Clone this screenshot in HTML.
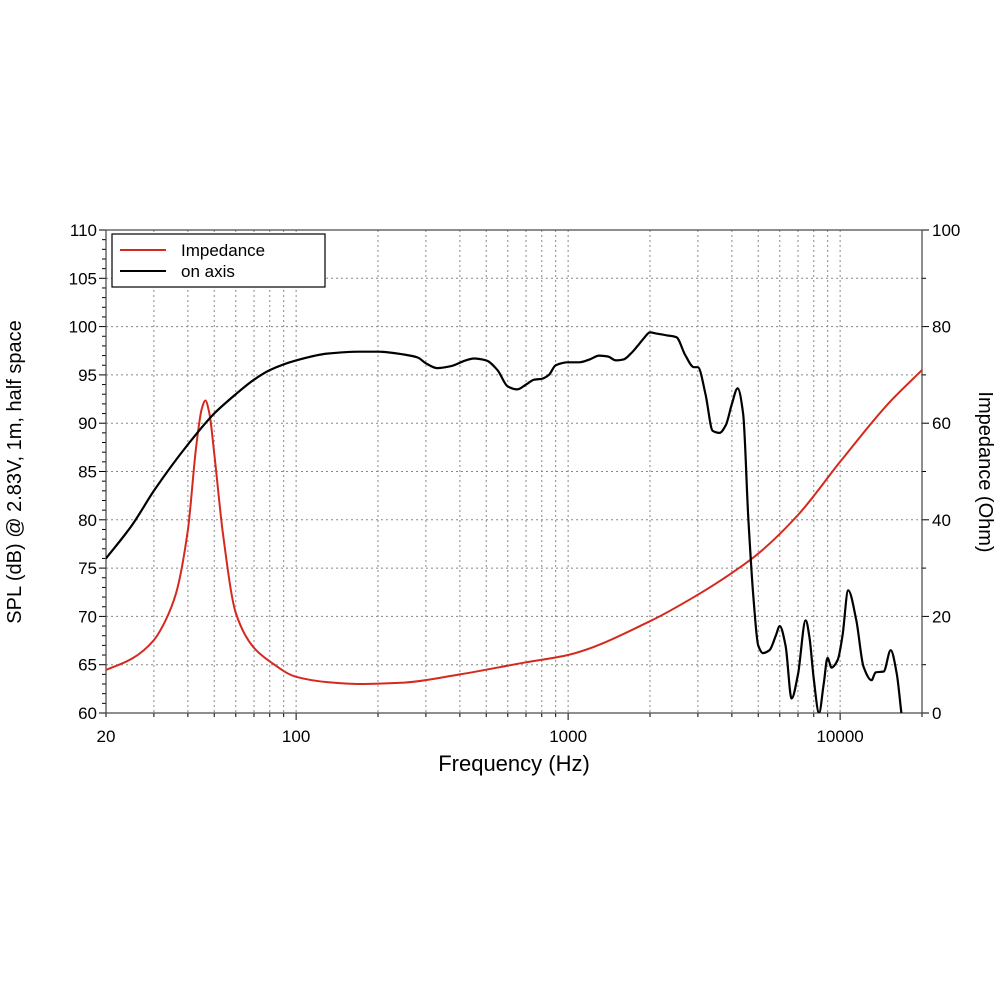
<!DOCTYPE html>
<html><head><meta charset="utf-8"><style>
body{margin:0;background:#fff;}
svg{font-family:"Liberation Sans",Arial,sans-serif;}
</style></head><body>
<svg id="chart" width="1000" height="1000" viewBox="0 0 1000 1000">
<g id="grid"></g>
<g id="axes"></g>
<path id="imp" fill="none" stroke="#d42a1e" stroke-width="2"/>
<path id="spl" fill="none" stroke="#000" stroke-width="2.2"/>
<text x="514" y="771" font-size="22" text-anchor="middle">Frequency (Hz)</text>
<text transform="translate(21,472) rotate(-90)" font-size="20" text-anchor="middle">SPL (dB) @ 2.83V, 1m, half space</text>
<text transform="translate(979,472) rotate(90)" font-size="20" text-anchor="middle">Impedance (Ohm)</text>
<g>
<rect x="112" y="234" width="213" height="53" fill="#fff" stroke="#000" stroke-width="1.2"/>
<line x1="120" y1="250" x2="166" y2="250" stroke="#d42a1e" stroke-width="2"/>
<text x="181" y="256" font-size="17">Impedance</text>
<line x1="120" y1="271" x2="166" y2="271" stroke="#000" stroke-width="2"/>
<text x="181" y="277" font-size="17">on axis</text>
</g>
</svg>
<script>
const splFreq=[20,25,30,40,50,60,70,80,100,130,170,200,250,280,300,330,370,420,450,500,550,600,650,700,750,800,850,900,1000,1100,1200,1300,1400,1500,1600,1700,1800,1900,2000,2100,2300,2500,2700,2900,3000,3200,3400,3600,3800,4000,4200,4400,4600,4800,5000,5200,5500,5800,6000,6300,6630,7000,7470,7700,8000,8370,8700,8990,9300,9800,10200,10710,11470,12190,13050,13500,14460,15350,16150,16800,17200];
const splDb=[76,79.5,83,87.8,91,93,94.5,95.5,96.5,97.2,97.4,97.4,97.1,96.8,96.2,95.7,95.9,96.5,96.7,96.5,95.5,93.8,93.5,94,94.5,94.6,95,96,96.3,96.3,96.6,97,96.9,96.5,96.6,97.2,98,98.8,99.4,99.3,99.1,98.9,97,95.8,95.8,93,89.2,89,89.8,92,93.6,91,80,72,67,66.2,66.5,68,69,67,61.5,64,69.6,68,63.5,60,63,65.7,64.7,65.5,68,72.7,69.6,64.8,63.4,64.2,64.3,66.5,64.1,60,58];
const impFreq=[20,25,30,33,36.2,40,42.9,45,46.4,48,50,53.8,60,69.5,80.4,100,130,171,250,400,700,1000,2000,3000,4000,5000,7000,10000,15000,20000];
const impOhm=[8.9,11.3,15.1,19,24.8,37.9,55,63,64.7,62,53.8,37.2,20.7,13.7,10.6,7.5,6.4,6,6.3,8,10.5,12,19,24.5,29,33,41,52,64,71];
const xTicks=[20,100,1000,10000];
const splTicks=[60,65,70,75,80,85,90,95,100,105,110];
const impTicks=[0,20,40,60,80,100];
const X0=106,X1=922,YT=230,YB=713;
const fx=f=>X0+(Math.log10(f)-Math.log10(20))/3*(X1-X0);
const fy=d=>YB-(d-60)/50*(YB-YT);
const fz=z=>YB-z/100*(YB-YT);
const NS='http://www.w3.org/2000/svg';
function mk(tag,at,parent){const e=document.createElementNS(NS,tag);for(const k in at)e.setAttribute(k,at[k]);parent.appendChild(e);return e;}
const grid=document.getElementById('grid'),axes=document.getElementById('axes');
for(let dec=10;dec<=10000;dec*=10){for(let m=1;m<10;m++){const f=dec*m;if(f<20||f>20000)continue;const x=fx(f);
 const l=mk('line',{x1:x,y1:YT,x2:x,y2:YB,stroke:'#888','stroke-width':1,'stroke-dasharray':'2,3'},grid);
 
 
 const t=mk('line',{x1:x,y1:YB,x2:x,y2:YB+(m===1?7:4),stroke:'#000','stroke-width':1},axes);
 
 }}
splTicks.forEach(d=>{const y=fy(d);
 const l=mk('line',{x1:X0,y1:y,x2:X1,y2:y,stroke:'#888','stroke-width':1,'stroke-dasharray':'2,3'},grid);
 
 
 const t=mk('text',{x:X0-9,y:y+6,'font-size':17,'text-anchor':'end'},axes);t.textContent=d;
 
 });
for(let d=60;d<=110;d++){const y=fy(d);mk('line',{x1:X0-(d%5===0?7:4),y1:y,x2:X0,y2:y,stroke:'#000','stroke-width':1},axes);}
impTicks.forEach(z=>{const y=fz(z);
 const t=mk('text',{x:X1+10,y:y+6,'font-size':17},axes);t.textContent=z;
 
 });
for(let z=0;z<=100;z+=10){const y=fz(z);mk('line',{x1:X1,y1:y,x2:X1+(z%20===0?7:4),y2:y,stroke:'#000','stroke-width':1},axes);}
xTicks.forEach(f=>{const t=mk('text',{x:fx(f),y:YB+29,'font-size':17,'text-anchor':'middle'},axes);t.textContent=f;
 
 });
mk('rect',{x:X0,y:YT,width:X1-X0,height:YB-YT,fill:'none',stroke:'#444','stroke-width':1.2},axes);
// monotone cubic interpolation in pixel space
function curve(fs,vs,fyF){const xs=fs.map(fx),ys=vs.map(fyF),n=xs.length;
 const h=[],s=[];for(let i=0;i<n-1;i++){h.push(xs[i+1]-xs[i]);s.push((ys[i+1]-ys[i])/h[i]);}
 const m=[s[0]];for(let i=1;i<n-1;i++){if(s[i-1]*s[i]<=0)m.push(0);else{const w1=2*h[i]+h[i-1],w2=h[i]+2*h[i-1];m.push((w1+w2)/(w1/s[i-1]+w2/s[i]));}}m.push(s[n-2]);
 let d='M'+xs[0].toFixed(1)+','+ys[0].toFixed(1);
 for(let i=0;i<n-1;i++){const dx=h[i]/3;d+=`C${(xs[i]+dx).toFixed(1)},${(ys[i]+m[i]*dx).toFixed(1)} ${(xs[i+1]-dx).toFixed(1)},${(ys[i+1]-m[i+1]*dx).toFixed(1)} ${xs[i+1].toFixed(1)},${ys[i+1].toFixed(1)}`;}
 return d;}
const cp=mk('clipPath',{id:'clip'},document.getElementById('chart'));mk('rect',{x:X0,y:YT,width:X1-X0,height:YB-YT},cp);
document.getElementById('spl').setAttribute('d',curve(splFreq,splDb,fy));
document.getElementById('spl').setAttribute('clip-path','url(#clip)');
document.getElementById('imp').setAttribute('d',curve(impFreq,impOhm,fz));
</script>
</body></html>
